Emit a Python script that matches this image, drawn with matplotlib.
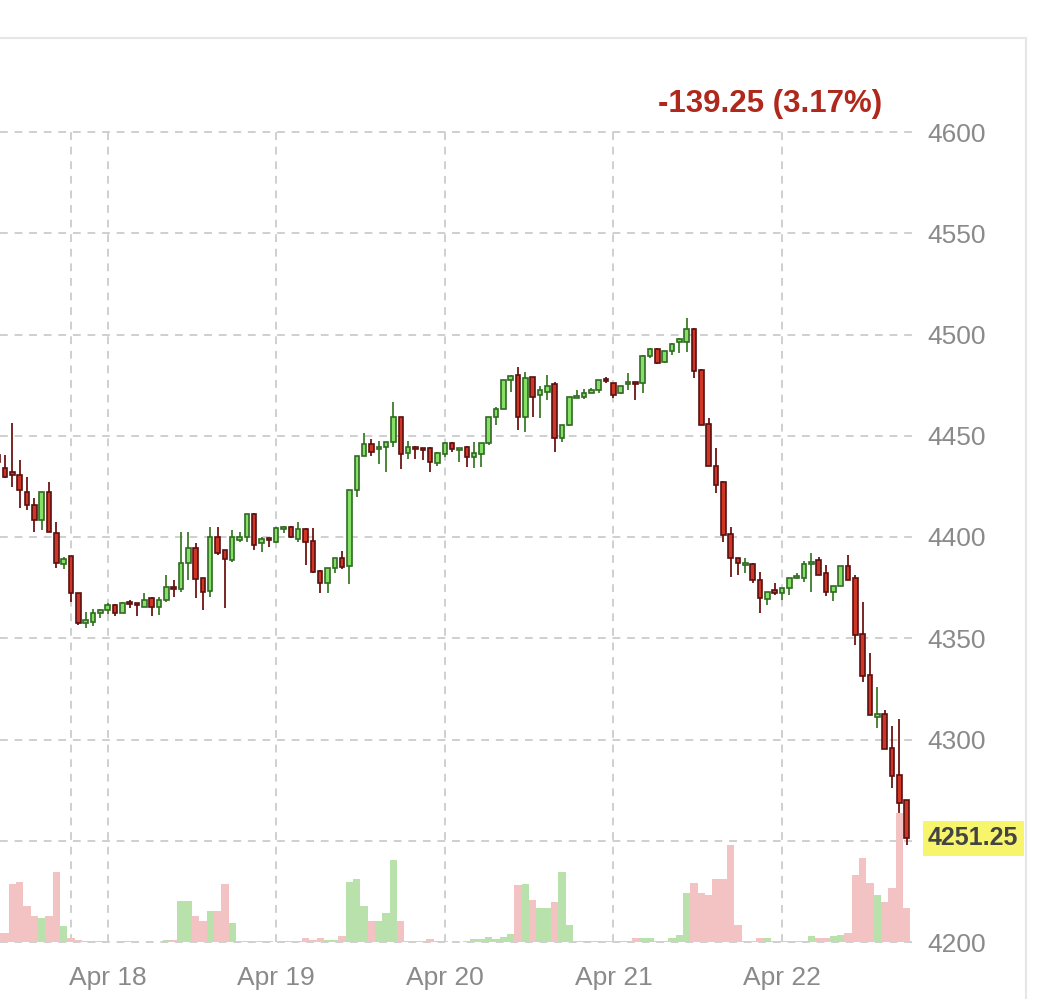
import numpy as np
import matplotlib.pyplot as plt
import matplotlib.transforms as mtransforms
from matplotlib.lines import Line2D

plt.rcParams['font.family'] = ['Liberation Sans', 'DejaVu Sans']

# hourly candles, first one is only half visible at the left edge
opens = [4440.5, 4434.0, 4432.0, 4430.5, 4422.25, 4415.75, 4408.5, 4422.25, 4402.0, 4386.75,
         4390.5, 4372.25, 4357.5, 4358.0, 4362.5, 4364.0, 4366.5, 4362.5, 4367.5, 4367.5,
         4365.5, 4370.0, 4365.5, 4369.0, 4375.25, 4374.25, 4387.25, 4394.5, 4379.75, 4373.25,
         4400.0, 4393.5, 4388.75, 4398.5, 4400.0, 4411.5, 4397.0, 4399.0, 4397.5, 4404.0,
         4405.0, 4399.0, 4404.0, 4398.0, 4383.25, 4377.25, 4384.75, 4389.5, 4385.75, 4423.25,
         4440.0, 4446.0, 4443.5, 4444.5, 4447.0, 4459.25, 4441.5, 4444.5, 4443.75, 4444.0,
         4436.5, 4441.0, 4446.5, 4443.0, 4444.5, 4439.5, 4441.0, 4446.5, 4459.25, 4463.25,
         4477.5, 4480.0, 4459.25, 4479.0, 4470.0, 4471.5, 4475.5, 4449.0, 4455.25, 4468.5,
         4469.0, 4471.0, 4472.5, 4477.5, 4476.0, 4471.0, 4475.5, 4476.0, 4476.0, 4489.5,
         4493.0, 4486.5, 4492.0, 4496.25, 4496.25, 4502.75, 4482.5, 4455.75, 4435.0, 4427.25,
         4401.5, 4389.5, 4386.25, 4386.75, 4378.75, 4369.5, 4373.75, 4372.25, 4374.75, 4379.75,
         4379.75, 4386.75, 4388.75, 4382.25, 4372.75, 4375.75, 4385.75, 4379.75, 4352.0, 4332.0,
         4311.0, 4312.5, 4295.75, 4282.5, 4270.0]
highs = [4441.5, 4440.5, 4456.25, 4438.0, 4429.5, 4419.25, 4422.25, 4427.25, 4407.5, 4390.0,
         4390.75, 4372.5, 4363.0, 4364.5, 4364.5, 4367.5, 4367.0, 4368.0, 4369.0, 4367.5,
         4372.25, 4370.5, 4370.5, 4381.25, 4378.75, 4402.5, 4402.5, 4397.0, 4380.0, 4405.0,
         4405.0, 4393.75, 4403.5, 4402.5, 4411.5, 4411.75, 4400.0, 4399.25, 4405.0, 4405.5,
         4405.25, 4407.5, 4404.5, 4404.5, 4383.5, 4384.75, 4389.75, 4393.0, 4423.25, 4440.0,
         4451.5, 4448.5, 4447.5, 4447.0, 4466.75, 4459.5, 4447.5, 4444.75, 4444.0, 4444.25,
         4441.75, 4447.0, 4446.75, 4443.75, 4444.75, 4447.0, 4446.5, 4459.5, 4464.25, 4477.75,
         4480.0, 4484.0, 4481.5, 4479.25, 4474.5, 4480.0, 4476.5, 4455.5, 4469.25, 4472.5,
         4473.0, 4473.5, 4477.75, 4479.0, 4476.25, 4474.75, 4481.0, 4476.25, 4490.0, 4493.25,
         4493.25, 4492.0, 4495.75, 4498.25, 4508.25, 4503.0, 4482.75, 4458.75, 4444.0, 4427.5,
         4405.0, 4389.75, 4389.5, 4387.0, 4382.75, 4372.75, 4377.25, 4374.75, 4379.75, 4382.25,
         4388.25, 4392.0, 4390.0, 4386.25, 4375.75, 4385.75, 4391.0, 4381.25, 4368.0, 4342.75,
         4326.0, 4314.5, 4306.75, 4310.0, 4270.25]
lows = [4435.5, 4429.0, 4424.75, 4414.25, 4413.25, 4402.5, 4403.5, 4402.5, 4384.75, 4384.25,
        4368.0, 4356.5, 4355.0, 4356.0, 4360.0, 4362.0, 4361.0, 4362.5, 4365.0, 4361.0,
        4365.5, 4361.0, 4361.5, 4368.0, 4370.5, 4372.75, 4378.75, 4370.0, 4364.0, 4370.5,
        4391.0, 4365.0, 4387.75, 4397.5, 4397.5, 4393.5, 4392.5, 4395.0, 4397.0, 4402.0,
        4399.5, 4397.5, 4386.25, 4382.25, 4372.25, 4372.25, 4382.25, 4384.25, 4376.75, 4419.75,
        4440.0, 4440.0, 4436.0, 4432.0, 4444.5, 4433.5, 4438.5, 4438.5, 4438.0, 4432.0,
        4435.0, 4439.5, 4442.0, 4437.0, 4434.5, 4434.0, 4434.5, 4445.5, 4455.25, 4463.0,
        4471.5, 4452.75, 4451.75, 4459.25, 4458.75, 4467.75, 4442.0, 4447.0, 4455.0, 4468.5,
        4468.0, 4471.0, 4471.0, 4476.0, 4468.5, 4470.5, 4472.5, 4467.75, 4471.0, 4488.5,
        4485.5, 4486.0, 4490.0, 4491.0, 4491.5, 4478.5, 4455.25, 4435.0, 4421.75, 4397.5,
        4380.25, 4381.25, 4382.25, 4377.25, 4362.5, 4366.5, 4371.5, 4369.0, 4371.5, 4379.25,
        4377.75, 4372.75, 4381.25, 4371.0, 4368.5, 4375.75, 4378.75, 4346.75, 4328.5, 4312.0,
        4305.75, 4295.25, 4276.0, 4263.75, 4248.0]
closes = [4437.0, 4429.5, 4430.5, 4423.25, 4415.75, 4408.5, 4422.25, 4402.5, 4387.25, 4389.0,
          4372.25, 4357.5, 4359.0, 4362.5, 4364.0, 4366.5, 4362.5, 4367.5, 4367.0, 4366.5,
          4369.0, 4365.5, 4369.0, 4375.25, 4374.25, 4387.25, 4394.5, 4379.25, 4372.75, 4400.0,
          4392.0, 4389.0, 4400.0, 4400.0, 4411.5, 4396.0, 4399.0, 4398.5, 4404.5, 4405.0,
          4400.0, 4404.0, 4397.5, 4382.75, 4377.25, 4384.75, 4389.5, 4385.25, 4423.25, 4440.0,
          4446.0, 4442.0, 4444.5, 4447.0, 4459.25, 4441.0, 4444.5, 4443.5, 4443.0, 4437.0,
          4441.5, 4446.5, 4443.5, 4443.5, 4439.5, 4441.5, 4446.5, 4459.25, 4463.25, 4477.5,
          4479.5, 4459.25, 4478.5, 4469.0, 4472.5, 4474.5, 4449.0, 4455.25, 4469.0, 4469.0,
          4471.0, 4472.5, 4477.5, 4477.0, 4470.0, 4474.5, 4476.0, 4475.5, 4489.5, 4493.0,
          4486.0, 4492.0, 4495.25, 4497.75, 4502.75, 4482.0, 4455.25, 4435.0, 4425.75, 4401.0,
          4389.5, 4387.25, 4387.25, 4378.75, 4370.0, 4372.75, 4372.25, 4374.75, 4379.75, 4380.75,
          4386.75, 4387.75, 4381.25, 4372.75, 4375.75, 4385.75, 4378.75, 4351.5, 4331.5, 4312.0,
          4312.5, 4295.25, 4282.0, 4268.75, 4251.25]
volumes = [9, 9, 58, 60, 36, 26, 24, 26, 70, 16,
           4, 2, 1, 1, 1, 0, 0, 1, 1, 0,
           0, 0, 0, 2, 2, 41, 41, 26, 21, 31,
           31, 58, 19, 1, 1, 1, 1, 1, 0, 1,
           1, 1, 4, 2, 4, 2, 2, 6, 60, 63,
           36, 21, 21, 29, 82, 21, 1, 1, 1, 3,
           1, 1, 0, 0, 1, 3, 3, 5, 3, 5,
           8, 57, 58, 42, 34, 34, 40, 70, 17, 1,
           1, 1, 1, 1, 1, 1, 1, 4, 4, 4,
           1, 1, 4, 7, 49, 59, 49, 47, 63, 63,
           97, 17, 1, 1, 4, 4, 1, 1, 1, 1,
           1, 6, 4, 4, 6, 7, 9, 67, 84, 59,
           47, 40, 54, 129, 34]

day_pos = [14, 37, 60, 83, 106]
day_labels = ['Apr 18', 'Apr 19', 'Apr 20', 'Apr 21', 'Apr 22']
session_pos = 9
change_text = '-139.25 (3.17%)'

o = np.array(opens)
h = np.array(highs)
l = np.array(lows)
c = np.array(closes)
v = np.array(volumes, dtype=float)
x = np.arange(len(o)) - 1
up = c >= o

fig = plt.figure(figsize=(10.64, 9.99), dpi=100)
ax = fig.add_axes([0, 57 / 999, 912 / 1064, 810 / 999])

# volume along the bottom, drawn in axes fraction so it sits under the candles
trans = mtransforms.blended_transform_factory(ax.transData, ax.transAxes)
vol_col = np.where(up, '#b9e1ab', '#f3c2c2')
ax.bar(x, v / 810, width=1.0, bottom=0, color=vol_col, transform=trans, zorder=1, linewidth=0)

wick_col = np.where(up, '#3b7d2a', '#6e1414')
fill_col = np.where(up, '#86e066', '#cf3626')
edge_col = np.where(up, '#2f6a22', '#5a0f0f')
ax.vlines(x, l, h, colors=wick_col, linewidth=1.3, zorder=2)
body_lo = np.minimum(o, c)
body_h = np.maximum(np.abs(c - o), 0.9)
ax.bar(x, body_h, bottom=body_lo, width=0.62, color=fill_col, edgecolor=edge_col,
       linewidth=1.2, zorder=3)

ax.set_xlim(-0.68, 123.74)
ax.set_ylim(4200, 4600)

ax.set_xticks([session_pos] + day_pos)
ax.set_xticklabels([''] + day_labels)
yt = np.arange(4200, 4601, 50)
ax.set_yticks(yt)
ax.set_yticklabels(['' if t == 4250 else str(t) for t in yt])
ax.yaxis.tick_right()
ax.tick_params(axis='both', length=0, labelsize=19, labelcolor='#8a8a8a')
ax.tick_params(axis='y', pad=11)
ax.tick_params(axis='x', pad=17)
ax.set_axisbelow(True)
ax.grid(True, linestyle=(0, (4, 3.5)), color='#cfcfcf', linewidth=1.4)
for gl in ax.get_xgridlines() + ax.get_ygridlines():
    gl.set_clip_on(False)
for s in ax.spines.values():
    s.set_visible(False)

ax.annotate(f'{closes[-1]:.2f}', xy=(1, closes[-1]), xycoords=('axes fraction', 'data'),
            xytext=(16, 0), textcoords='offset pixels', ha='left', va='center',
            fontsize=18, fontweight='bold', color='#444444', annotation_clip=False,
            bbox=dict(boxstyle='square,pad=0.22', fc='#f7f56c', ec='none'))

fig.text(882 / 1064, 1 - 104 / 999, change_text, color='#b0281c', fontsize=22.5,
         fontweight='bold', ha='right', va='center')

# light outer frame (top and right)
fig.add_artist(Line2D([0, 1026 / 1064], [1 - 38 / 999] * 2, color='#e6e6e6', lw=1.5))
fig.add_artist(Line2D([1026 / 1064] * 2, [0, 1 - 38 / 999], color='#e6e6e6', lw=1.5))

fig.savefig('out.png', dpi=100)
